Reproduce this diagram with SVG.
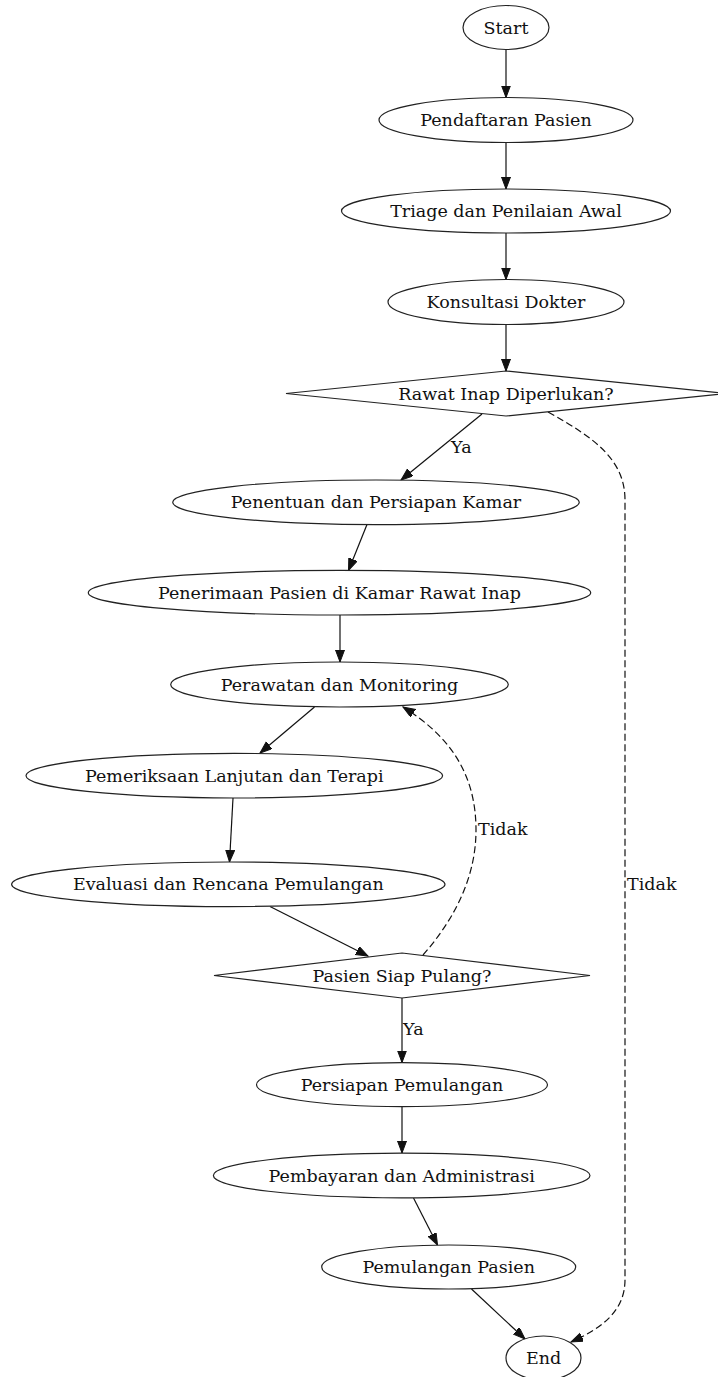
<svg xmlns="http://www.w3.org/2000/svg" width="718" height="1377" viewBox="0 0 718 1377">
<style>
  .node ellipse, .node polygon { fill: #ffffff; stroke: #222; stroke-width: 1.2; }
  .node text, .lbl { font-family: "DejaVu Serif", serif; font-size: 17.5px; fill: #111; text-anchor: middle; }
  .lbl { text-anchor: start; }
  .edge { fill: none; stroke: #111; stroke-width: 1.2; }
  .dashed { stroke-dasharray: 7,3.5; }
</style>
<defs>
  <marker id="arr" markerUnits="userSpaceOnUse" markerWidth="13" markerHeight="10" refX="12" refY="4.5" orient="auto">
    <path d="M0,0 L12,4.5 L0,9 Z" fill="#111" stroke="#111" stroke-width="1"/>
  </marker>
</defs>
<rect width="718" height="1377" fill="#ffffff"/>
<g id="edges">
  <path class="edge" d="M506,49.5 L506,97.5" marker-end="url(#arr)"/>
  <path class="edge" d="M506,142.5 L506,189" marker-end="url(#arr)"/>
  <path class="edge" d="M506,233 L506,279.5" marker-end="url(#arr)"/>
  <path class="edge" d="M506,325 L506,371" marker-end="url(#arr)"/>
  <path class="edge" d="M482,414 L401,480" marker-end="url(#arr)"/>
  <path class="edge" d="M367,524.5 L348.5,570.5" marker-end="url(#arr)"/>
  <path class="edge" d="M340,615 L340,662" marker-end="url(#arr)"/>
  <path class="edge" d="M314.5,707 L260,753" marker-end="url(#arr)"/>
  <path class="edge" d="M233,798 L229.5,862" marker-end="url(#arr)"/>
  <path class="edge" d="M270,906.5 L368,956" marker-end="url(#arr)"/>
  <path class="edge" d="M402,998 L402,1062.5" marker-end="url(#arr)"/>
  <path class="edge" d="M402,1107 L402,1153" marker-end="url(#arr)"/>
  <path class="edge" d="M413.5,1198 L437.5,1245" marker-end="url(#arr)"/>
  <path class="edge" d="M471.5,1289 L525,1339" marker-end="url(#arr)"/>
  <path class="edge dashed" d="M423,955 C452,922 476,880 476,830 C476,772 448,735 403,707" marker-end="url(#arr)"/>
  <path class="edge dashed" d="M548,412 C595,438 625,460 625,500 L625,1280 C625,1310 603,1328 571,1342" marker-end="url(#arr)"/>
  <text class="lbl" x="451" y="453">Ya</text>
  <text class="lbl" x="478" y="835">Tidak</text>
  <text class="lbl" x="627" y="890">Tidak</text>
  <text class="lbl" x="403" y="1035">Ya</text>
</g>
<g id="start" class="node"><ellipse cx="506" cy="27.5" rx="43" ry="22"/><text x="506" y="33.5">Start</text></g>
<g id="pendaftaran" class="node"><ellipse cx="506" cy="120" rx="127" ry="22.5"/><text x="506" y="126">Pendaftaran Pasien</text></g>
<g id="triage" class="node"><ellipse cx="506" cy="211" rx="164.5" ry="22"/><text x="506" y="217">Triage dan Penilaian Awal</text></g>
<g id="konsultasi" class="node"><ellipse cx="506" cy="302" rx="118" ry="22.5"/><text x="506" y="308">Konsultasi Dokter</text></g>
<g id="rawat_inap" class="node"><polygon points="506,371 726,393.5 506,416 286,393.5"/><text x="506" y="399.5">Rawat Inap Diperlukan?</text></g>
<g id="penentuan" class="node"><ellipse cx="376" cy="502.3" rx="203.3" ry="22.3"/><text x="376" y="508.3">Penentuan dan Persiapan Kamar</text></g>
<g id="penerimaan" class="node"><ellipse cx="339.5" cy="592.7" rx="251.2" ry="22.3"/><text x="339.5" y="598.7">Penerimaan Pasien di Kamar Rawat Inap</text></g>
<g id="perawatan" class="node"><ellipse cx="339.5" cy="684.5" rx="168.8" ry="22.5"/><text x="339.5" y="690.5">Perawatan dan Monitoring</text></g>
<g id="pemeriksaan" class="node"><ellipse cx="234.3" cy="775.7" rx="208.3" ry="22.3"/><text x="234.3" y="781.7">Pemeriksaan Lanjutan dan Terapi</text></g>
<g id="evaluasi" class="node"><ellipse cx="228.3" cy="884.3" rx="216.7" ry="22.3"/><text x="228.3" y="890.3">Evaluasi dan Rencana Pemulangan</text></g>
<g id="pasien_siap" class="node"><polygon points="402,953 590,975.5 402,998 214,975.5"/><text x="402" y="981.5">Pasien Siap Pulang?</text></g>
<g id="persiapan" class="node"><ellipse cx="402" cy="1084.7" rx="145.5" ry="22"/><text x="402" y="1090.7">Persiapan Pemulangan</text></g>
<g id="pembayaran" class="node"><ellipse cx="401.7" cy="1175.5" rx="188.3" ry="22.3"/><text x="401.7" y="1181.5">Pembayaran dan Administrasi</text></g>
<g id="pemulangan" class="node"><ellipse cx="448.7" cy="1267" rx="127" ry="22"/><text x="448.7" y="1273">Pemulangan Pasien</text></g>
<g id="end" class="node"><ellipse cx="543.5" cy="1358" rx="37.5" ry="22"/><text x="543.5" y="1364">End</text></g>
</svg>
